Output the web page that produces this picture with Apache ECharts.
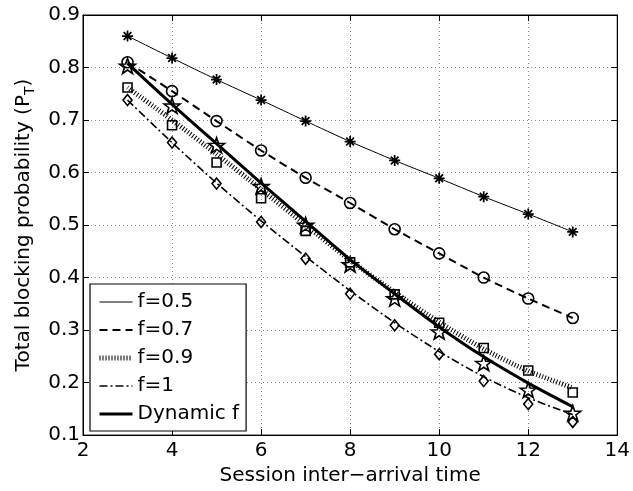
<!DOCTYPE html>
<html><head><meta charset="utf-8">
<script src="https://cdn.jsdelivr.net/npm/echarts@6/dist/echarts.min.js"></script>
<style>html,body{margin:0;padding:0;background:#fff}#c{width:633px;height:491px}</style>
</head><body><div id="c"></div>
<script>
// ---- data ----
const xValues = [3, 4, 5, 6, 7, 8, 9, 10, 11, 12, 13];
const xTicks = [2, 4, 6, 8, 10, 12, 14];
const yTicks = [0.1, 0.2, 0.3, 0.4, 0.5, 0.6, 0.7, 0.8, 0.9];
const seriesNames = ['f=0.5', 'f=0.7', 'f=0.9', 'f=1', 'Dynamic f'];
// simulated points (markers)
const f05Points = [0.860, 0.818, 0.777, 0.738, 0.698, 0.659, 0.623, 0.589, 0.554, 0.521, 0.487];
const f07Points = [0.810, 0.755, 0.698, 0.642, 0.590, 0.542, 0.492, 0.446, 0.400, 0.360, 0.323];
const f09Points = [0.762, 0.690, 0.619, 0.551, 0.489, 0.429, 0.368, 0.314, 0.266, 0.223, 0.181];
const f1Points = [0.738, 0.657, 0.579, 0.506, 0.436, 0.369, 0.309, 0.254, 0.203, 0.159, 0.125];
const dynPoints = [0.803, 0.727, 0.652, 0.574, 0.500, 0.425, 0.360, 0.297, 0.237, 0.186, 0.142];
// analytical curves (lines)
const f05Curve = [0.860, 0.818, 0.777, 0.738, 0.698, 0.659, 0.623, 0.589, 0.554, 0.521, 0.487];
const f07Curve = [0.810, 0.755, 0.698, 0.642, 0.590, 0.542, 0.492, 0.446, 0.400, 0.360, 0.323];
const f09Curve = [0.762, 0.700, 0.635, 0.568, 0.500, 0.433, 0.372, 0.315, 0.264, 0.222, 0.190];
const f1Curve = [0.738, 0.657, 0.580, 0.508, 0.440, 0.375, 0.314, 0.259, 0.211, 0.171, 0.139];
const dynCurve = [0.808, 0.730, 0.655, 0.580, 0.507, 0.434, 0.369, 0.306, 0.249, 0.199, 0.154];

// ---- chart ----
const FONT = 'DejaVu Sans';
const pair = arr => xValues.map((x, i) => [x, arr[i]]);
const asterisk = 'path://M0,4.2H10V5.8H0Z M4.2,0H5.8V10H4.2Z M2.07,0.93L9.07,7.93L7.93,9.07L0.93,2.07Z M9.07,2.07L2.07,9.07L0.93,7.93L7.93,0.93Z';
const star = 'path://M0,-10L2.35,-3.24L9.51,-3.09L3.8,1.24L5.88,8.09L0,4L-5.88,8.09L-3.8,1.24L-9.51,-3.09L-2.35,-3.24Z';

const lineDefs = [
  {name: seriesNames[0], data: f05Curve, width: 1, type: 'solid'},
  {name: seriesNames[1], data: f07Curve, width: 2, type: [8, 5]},
  {name: seriesNames[2], data: f09Curve, width: 5, type: [1, 2]},
  {name: seriesNames[3], data: f1Curve, width: 1.6, type: [8, 3, 2, 3]},
  {name: seriesNames[4], data: dynCurve, width: 3, type: 'solid'}
];
const markDefs = [
  {data: f05Points, symbol: asterisk, size: 11, fill: '#000', bw: 0},
  {data: f07Points, symbol: 'circle', size: 11, fill: 'rgba(0,0,0,0)', bw: 1.6},
  {data: f09Points, symbol: 'rect', size: 9, fill: 'rgba(0,0,0,0)', bw: 1.6},
  {data: f1Points, symbol: 'diamond', size: [9, 11], fill: 'rgba(0,0,0,0)', bw: 1.6},
  {data: dynPoints, symbol: star, size: [16, 15], fill: 'rgba(0,0,0,0)', bw: 1.6}
];

const series = [];
lineDefs.forEach(d => series.push({
  type: 'line', name: d.name, data: pair(d.data), symbol: 'none', smooth: 0.25,
  lineStyle: {color: '#000', width: d.width, type: d.type}, itemStyle: {color: '#000'},
  z: 2, silent: true
}));
markDefs.forEach((d, i) => series.push({
  type: 'scatter', name: seriesNames[i] + ' (points)', data: pair(d.data),
  symbol: d.symbol, symbolSize: d.size,
  itemStyle: {color: d.fill, borderColor: '#000', borderWidth: d.bw, opacity: 1},
  z: 3, silent: true
}));

const gridLine = {show: true, lineStyle: {color: '#8a8a8a', width: 1, type: [1, 3]}};
const chart = echarts.init(document.getElementById('c'), null, {renderer: 'canvas'});
chart.setOption({
  animation: false,
  backgroundColor: '#fff',
  textStyle: {fontFamily: FONT},
  grid: {left: 83, right: 15, top: 15, bottom: 54, show: true, borderColor: '#000', borderWidth: 1, backgroundColor: 'transparent'},
  legend: {
    data: lineDefs.map(d => ({name: d.name, lineStyle: {width: d.width, type: d.type, color: '#000'}})),
    orient: 'vertical', left: 90, top: 284,
    itemWidth: 33, itemHeight: 14, itemGap: 8, padding: [8, 7, 7, 7],
    backgroundColor: '#fff', borderColor: '#000', borderWidth: 1.2,
    itemStyle: {color: 'rgba(0,0,0,0)', borderWidth: 0, opacity: 0},
    lineStyle: {width: 'inherit'},
    textStyle: {fontFamily: FONT, fontSize: 20, color: '#000'},
    selectedMode: false
  },
  xAxis: [{
    type: 'value', min: xTicks[0], max: xTicks[xTicks.length - 1], interval: 2,
    name: 'Session inter\u2212arrival time', nameLocation: 'middle', nameGap: 30,
    nameTextStyle: {fontFamily: FONT, fontSize: 20, color: '#000'},
    axisLine: {show: true, lineStyle: {color: '#000', width: 1}},
    axisTick: {show: true, inside: true, length: 6, lineStyle: {color: '#000'}},
    axisLabel: {fontFamily: FONT, fontSize: 20, color: '#000', margin: 6},
    splitLine: gridLine
  }, {
    type: 'value', position: 'top', min: xTicks[0], max: xTicks[xTicks.length - 1], interval: 2,
    axisLine: {show: true, lineStyle: {color: '#000', width: 1}},
    axisTick: {show: true, inside: true, length: 6, lineStyle: {color: '#000'}},
    axisLabel: {show: false}, splitLine: {show: false}
  }],
  yAxis: [{
    type: 'value', min: yTicks[0], max: yTicks[yTicks.length - 1], interval: 0.1,
    name: 'Total blocking probability (P{sub|T})', nameLocation: 'middle', nameGap: 46, nameRotate: 90,
    nameTextStyle: {fontFamily: FONT, fontSize: 20, color: '#000',
      rich: {sub: {fontFamily: FONT, fontSize: 14, color: '#000', padding: [12, 0, 0, 0]}}},
    axisLine: {show: true, lineStyle: {color: '#000', width: 1}},
    axisTick: {show: true, inside: true, length: 6, lineStyle: {color: '#000'}},
    axisLabel: {fontFamily: FONT, fontSize: 20, color: '#000', margin: 3,
      formatter: v => v.toFixed(1)},
    splitLine: gridLine
  }, {
    type: 'value', position: 'right', min: yTicks[0], max: yTicks[yTicks.length - 1], interval: 0.1,
    axisLine: {show: true, lineStyle: {color: '#000', width: 1}},
    axisTick: {show: true, inside: true, length: 6, lineStyle: {color: '#000'}},
    axisLabel: {show: false}, splitLine: {show: false}
  }],
  series: series
});
</script>
</body></html>
